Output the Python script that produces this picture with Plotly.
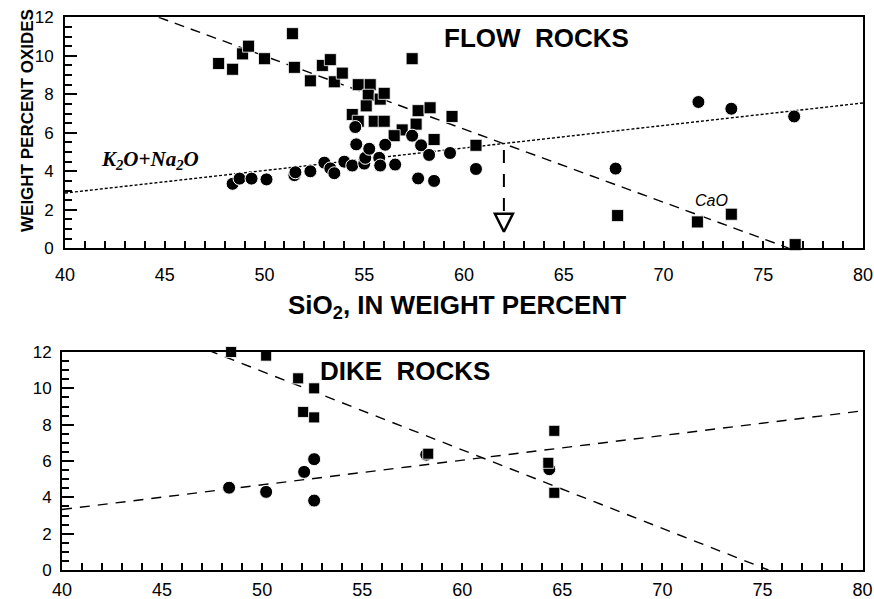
import plotly.graph_objects as go

# ---------------- data ----------------
# FLOW ROCKS: CaO (squares)
flow_cao_sio2 = [47.7, 48.4, 48.9, 49.2, 50.0, 51.4, 51.5, 52.3, 52.9, 53.3, 53.5, 53.9,
                 54.7, 55.3, 55.2, 55.8, 56.0, 55.1, 54.4, 54.7, 55.5, 56.0, 57.4, 57.7,
                 58.3, 59.4, 57.6, 56.9, 56.5, 58.5, 60.6, 67.7, 71.7, 73.4, 76.6]
flow_cao = [9.6, 9.3, 10.1, 10.5, 9.85, 11.15, 9.4, 8.7, 9.5, 9.8, 8.65, 9.1,
            8.5, 8.5, 7.95, 7.75, 8.05, 7.4, 6.95, 6.6, 6.6, 6.6, 9.85, 7.15,
            7.3, 6.85, 6.45, 6.15, 5.85, 5.65, 5.35, 1.7, 1.37, 1.77, 0.19]
# FLOW ROCKS: K2O+Na2O (circles)
flow_alk_sio2 = [48.4, 48.75, 49.35, 50.1, 51.5, 51.55, 52.3, 53.0, 53.3, 53.5, 54.0, 54.4,
                 54.55, 54.6, 55.0, 55.05, 55.25, 55.75, 55.8, 56.05, 56.55, 57.4, 57.85,
                 58.25, 57.7, 58.5, 59.3, 60.6, 67.6, 71.75, 73.4, 76.55]
flow_alk = [3.35, 3.62, 3.62, 3.58, 3.8, 3.95, 4.0, 4.45, 4.15, 3.9, 4.5, 4.3,
            6.3, 5.4, 4.4, 4.7, 5.17, 4.7, 4.3, 5.38, 4.35, 5.85, 5.35,
            4.85, 3.63, 3.5, 4.95, 4.12, 4.14, 7.6, 7.25, 6.85]
# FLOW ROCKS trend lines (end points)
flow_cao_fit_x = [44.7, 76.3]
flow_cao_fit_y = [12.0, 0.0]
flow_alk_fit_x = [40.0, 80.0]
flow_alk_fit_y = [2.87, 7.55]
# arrow marking the intersection
arrow_x = [62.0, 62.0]
arrow_y = [5.1, 1.75]
arrow_tip_x = [62.0]
arrow_tip_y = [0.86]

# DIKE ROCKS
dike_cao_sio2 = [48.45, 50.2, 51.8, 52.6, 52.05, 52.6, 58.3, 64.6, 64.3, 64.6]
dike_cao = [12.0, 11.8, 10.55, 10.0, 8.7, 8.4, 6.4, 7.66, 5.9, 4.25]
dike_alk_sio2 = [48.35, 50.2, 52.1, 52.6, 52.6, 58.2, 64.35]
dike_alk = [4.53, 4.3, 5.4, 6.1, 3.82, 6.35, 5.55]
dike_cao_fit_x = [47.3, 75.3]
dike_cao_fit_y = [12.1, 0.0]
dike_alk_fit_x = [40.0, 80.0]
dike_alk_fit_y = [3.33, 8.76]

x_ticks = [40, 45, 50, 55, 60, 65, 70, 75, 80]
y_ticks = [0, 2, 4, 6, 8, 10, 12]

# ---------------- figure ----------------
W, H = 874, 599
SANS = "Liberation Sans, Arial, Helvetica, sans-serif"
SERIF = "Liberation Serif, Times New Roman, serif"


def fx(p):
    return p / W


def fy(p):
    return 1 - p / H


fig = go.Figure()

# top panel
fig.add_trace(go.Scatter(x=flow_cao_fit_x, y=flow_cao_fit_y, mode="lines",
                         line=dict(color="black", width=1.4, dash="10px,7px"),
                         xaxis="x", yaxis="y", hoverinfo="skip"))
fig.add_trace(go.Scatter(x=flow_alk_fit_x, y=flow_alk_fit_y, mode="lines",
                         line=dict(color="black", width=1.4, dash="3px,2px"),
                         xaxis="x", yaxis="y", hoverinfo="skip"))
fig.add_trace(go.Scatter(x=flow_cao_sio2, y=flow_cao, mode="markers",
                         marker=dict(symbol="square", size=12, color="black",
                                     line=dict(color="white", width=0.8)),
                         cliponaxis=False, xaxis="x", yaxis="y"))
fig.add_trace(go.Scatter(x=flow_alk_sio2, y=flow_alk, mode="markers",
                         marker=dict(symbol="circle", size=13, color="black",
                                     line=dict(color="white", width=1)),
                         cliponaxis=False, xaxis="x", yaxis="y"))
fig.add_trace(go.Scatter(x=arrow_x, y=arrow_y, mode="lines",
                         line=dict(color="black", width=2, dash="13px,11px"),
                         xaxis="x", yaxis="y", hoverinfo="skip"))
fig.add_trace(go.Scatter(x=arrow_tip_x, y=arrow_tip_y, mode="markers",
                         marker=dict(symbol="arrow-down-open", size=18, color="black",
                                     line=dict(color="black", width=2.5)),
                         cliponaxis=False, xaxis="x", yaxis="y"))

# bottom panel
fig.add_trace(go.Scatter(x=dike_cao_fit_x, y=dike_cao_fit_y, mode="lines",
                         line=dict(color="black", width=1.4, dash="10px,8px"),
                         xaxis="x2", yaxis="y2", hoverinfo="skip"))
fig.add_trace(go.Scatter(x=dike_alk_fit_x, y=dike_alk_fit_y, mode="lines",
                         line=dict(color="black", width=1.4, dash="10px,8px"),
                         xaxis="x2", yaxis="y2", hoverinfo="skip"))
fig.add_trace(go.Scatter(x=dike_alk_sio2, y=dike_alk, mode="markers",
                         marker=dict(symbol="circle", size=13, color="black",
                                     line=dict(color="white", width=1)),
                         cliponaxis=False, xaxis="x2", yaxis="y2"))
fig.add_trace(go.Scatter(x=dike_cao_sio2, y=dike_cao, mode="markers",
                         marker=dict(symbol="square", size=11, color="black",
                                     line=dict(color="white", width=0.8)),
                         cliponaxis=False, xaxis="x2", yaxis="y2"))

axis_common = dict(showline=True, mirror=True, linecolor="black", linewidth=2,
                   showgrid=False, zeroline=False, ticks="inside",
                   tickcolor="black", tickwidth=1.5, automargin=False,
                   fixedrange=True)

xa = dict(range=[40, 80], tickmode="array", tickvals=x_ticks, ticklen=7,
          minor=dict(dtick=1, tick0=40, ticks="inside", ticklen=7,
                     tickwidth=1.5, tickcolor="black", showgrid=False),
          tickfont=dict(family=SANS, size=18, color="black"))
ya = dict(range=[0, 12], tickmode="array", tickvals=y_ticks, ticklen=12,
          minor=dict(dtick=0.5, tick0=0, ticks="inside", ticklen=7,
                     tickwidth=1.5, tickcolor="black", showgrid=False),
          tickfont=dict(family=SANS, size=17, color="black"))


def ann(text, x, y, size, family=SANS, xref="paper", yref="paper", angle=0):
    return dict(text=text, xref=xref, yref=yref, x=x, y=y, textangle=angle,
                showarrow=False, xanchor="center", yanchor="middle",
                font=dict(family=family, size=size, color="black"))


fig.update_layout(
    width=W, height=H,
    margin=dict(l=0, r=0, t=0, b=0),
    paper_bgcolor="white", plot_bgcolor="white",
    showlegend=False,
    xaxis=dict(**axis_common, **xa, domain=[fx(65), fx(863)], anchor="y",
               ticklabelstandoff=9),
    yaxis=dict(**axis_common, **ya, domain=[fy(248.3), fy(17.3)], anchor="x",
               ticklabelstandoff=6),
    xaxis2=dict(**axis_common, **xa, domain=[fx(62), fx(862.5)], anchor="y2",
                ticklabelstandoff=2),
    yaxis2=dict(**axis_common, **ya, domain=[fy(570), fy(352)], anchor="x2",
                ticklabelstandoff=5),
    annotations=[
        ann("<b>WEIGHT PERCENT OXIDES</b>", fx(28), fy(121), 17, angle=-90),
        ann("<b>SiO<sub>2</sub>, IN WEIGHT PERCENT</b>", fx(457), fy(306), 26),
        ann("<b>FLOW\u00a0\u00a0ROCKS</b>", fx(536), fy(38), 26),
        ann("<b>DIKE\u00a0\u00a0ROCKS</b>", fx(405), fy(371), 26),
        ann("<b><i>K<sub>2</sub>O+Na<sub>2</sub>O</i></b>", 44.25, 4.6, 21,
            family=SERIF, xref="x", yref="y"),
        ann("<i>CaO</i>", 72.4, 2.48, 16, xref="x", yref="y"),
    ],
)

fig.write_html("out.html",
               config={"displayModeBar": False},
               post_script="document.body.style.margin='0';document.body.style.padding='0';"
                           "document.body.style.overflow='hidden';")
